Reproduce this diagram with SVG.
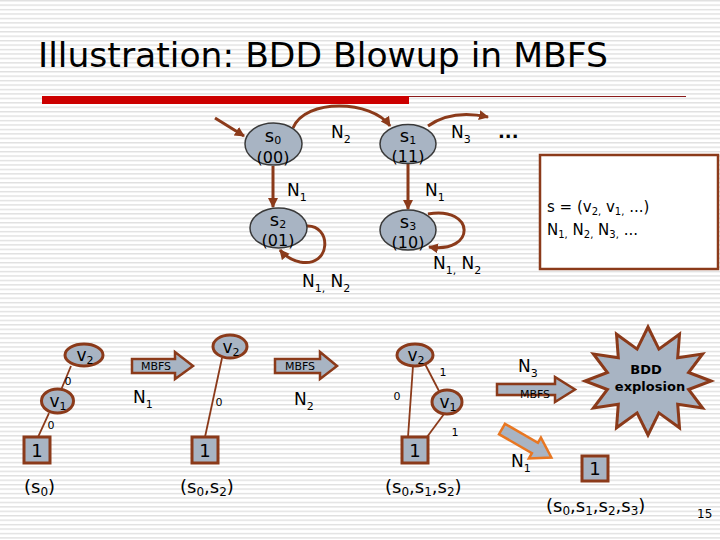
<svg xmlns="http://www.w3.org/2000/svg" width="720" height="540" viewBox="0 0 720 540">
<defs>
<pattern id="stripes" width="720" height="4.44" patternUnits="userSpaceOnUse">
<rect width="720" height="4.44" fill="#ffffff"/>
<rect y="0" width="720" height="1.4" fill="#e0e0e0"/>
</pattern>
<marker id="ah" markerWidth="12" markerHeight="12" refX="9" refY="5" orient="auto" markerUnits="userSpaceOnUse">
<path d="M0,0 L10,5 L0,10 z" fill="#8B3A1A"/>
</marker>
<style>
text{font-family:"DejaVu Sans","Liberation Sans",sans-serif;fill:#000}
.st{fill:#A8B4C3;stroke:#3a3a3a;stroke-width:1.5}
.bn{fill:#A8B4C3;stroke:#8B3A1A;stroke-width:3}
.edge{fill:none;stroke:#8B3A1A;stroke-width:3}
.bl{fill:none;stroke:#8B3A1A;stroke-width:1.8}
.blk{fill:#A8B4C3;stroke:#8B3A1A;stroke-width:2.5}
.lbl{font-size:17px}
.sub{font-size:11px}
.sm{font-size:11px}
.nm{font-size:18px}
.cd{font-size:16px}
</style>
</defs>
<rect width="720" height="540" fill="url(#stripes)"/>

<text x="38" y="67" font-size="34" textLength="570" lengthAdjust="spacingAndGlyphs">Illustration: BDD Blowup in MBFS</text>
<rect x="42" y="96" width="367" height="8" fill="#CC0000"/>
<line x1="409" y1="96.5" x2="686" y2="96.5" stroke="#8B1A1A" stroke-width="1"/>

<g id="connectors">
<path class="edge" d="M215,118 L244,136" marker-end="url(#ah)"/>
<path class="edge" d="M293,128 C305,98 372,100 390,126" marker-end="url(#ah)"/>
<path class="edge" d="M428,126 C445,114 465,112 488,117" marker-end="url(#ah)"/>
<path class="edge" d="M273,166 L273,207" marker-end="url(#ah)"/>
<path class="edge" d="M408,163 L408,209" marker-end="url(#ah)"/>
<path class="edge" d="M306,226 C332,224 332,268 300,262 C291,260 285,256 280,250" marker-end="url(#ah)"/>
<path class="edge" d="M428,214 C476,206 476,254 429,247" marker-end="url(#ah)"/>
<line class="bl" x1="71" y1="366" x2="61" y2="390"/>
<line class="bl" x1="49" y1="413" x2="38" y2="437"/>
<line class="bl" x1="222" y1="358" x2="205" y2="437"/>
<line class="bl" x1="413" y1="366" x2="408" y2="437"/>
<line class="bl" x1="425" y1="364" x2="439" y2="391"/>
<line class="bl" x1="444" y1="414" x2="427" y2="437"/>
</g>

<g id="s0"><ellipse class="st" cx="273.5" cy="144" rx="28.5" ry="21"/>
<text x="273" y="142" text-anchor="middle" class="nm">s<tspan class="sub" dy="2">0</tspan></text>
<text x="273" y="163" text-anchor="middle" class="cd">(00)</text></g>
<g id="s1"><ellipse class="st" cx="408" cy="144" rx="28" ry="19.5"/>
<text x="408" y="142" text-anchor="middle" class="nm">s<tspan class="sub" dy="2">1</tspan></text>
<text x="408" y="162" text-anchor="middle" class="cd">(11)</text></g>
<g id="s2"><ellipse class="st" cx="278.5" cy="228" rx="28.5" ry="20"/>
<text x="278" y="226" text-anchor="middle" class="nm">s<tspan class="sub" dy="2">2</tspan></text>
<text x="278" y="246" text-anchor="middle" class="cd">(01)</text></g>
<g id="s3"><ellipse class="st" cx="408" cy="230" rx="28" ry="20"/>
<text x="408" y="228" text-anchor="middle" class="nm">s<tspan class="sub" dy="2">3</tspan></text>
<text x="408" y="248" text-anchor="middle" class="cd">(10)</text></g>

<g id="edge-labels">
<text x="331" y="138" class="lbl">N<tspan class="sub" dy="5">2</tspan></text>
<text x="451" y="138" class="lbl">N<tspan class="sub" dy="5">3</tspan></text>
<text x="498" y="138" font-size="18" font-weight="bold">...</text>
<text x="287" y="196" class="lbl">N<tspan class="sub" dy="5">1</tspan></text>
<text x="425" y="196" class="lbl">N<tspan class="sub" dy="5">1</tspan></text>
<text x="302" y="287" class="lbl">N<tspan class="sub" dy="5">1,</tspan><tspan dy="-5"> N</tspan><tspan class="sub" dy="5">2</tspan></text>
<text x="433" y="269" class="lbl">N<tspan class="sub" dy="5">1,</tspan><tspan dy="-5"> N</tspan><tspan class="sub" dy="5">2</tspan></text>
</g>

<g id="legend">
<rect x="540" y="155" width="178" height="114" fill="#ffffff" stroke="#8B3A1A" stroke-width="2.5"/>
<text x="547" y="212" font-size="15">s = (v<tspan font-size="10" dy="3">2,</tspan><tspan dy="-3"> v</tspan><tspan font-size="10" dy="3">1,</tspan><tspan dy="-3"> ...)</tspan></text>
<text x="547" y="235" font-size="15">N<tspan font-size="10" dy="3">1,</tspan><tspan dy="-3"> N</tspan><tspan font-size="10" dy="3">2,</tspan><tspan dy="-3"> N</tspan><tspan font-size="10" dy="3">3,</tspan><tspan dy="-3"> ...</tspan></text>
</g>

<g id="bdd1">
<ellipse class="bn" cx="84" cy="355" rx="19" ry="11"/>
<text x="85" y="361" text-anchor="middle" class="lbl">v<tspan class="sub" dy="3">2</tspan></text>
<ellipse class="bn" cx="57.5" cy="401" rx="16" ry="12"/>
<text x="58" y="407" text-anchor="middle" class="lbl">v<tspan class="sub" dy="3">1</tspan></text>
<text x="68" y="385" text-anchor="middle" class="sm">0</text>
<text x="51" y="429" text-anchor="middle" class="sm">0</text>
<rect class="bn" x="24" y="437" width="26" height="26"/>
<text x="37" y="457" text-anchor="middle" font-size="18">1</text>
<text x="24" y="493" font-size="18">(s<tspan font-size="12" dy="3">0</tspan><tspan dy="-3">)</tspan></text>
</g>

<g id="arrow1">
<polygon class="blk" points="132,359 175,359 175,352 193,366 175,379 175,373 132,373"/>
<text x="156" y="370" text-anchor="middle" class="sm">MBFS</text>
<text x="133" y="403" class="lbl">N<tspan class="sub" dy="5">1</tspan></text>
</g>

<g id="bdd2">
<ellipse class="bn" cx="230" cy="346.5" rx="17" ry="11.5"/>
<text x="231" y="353" text-anchor="middle" class="lbl">v<tspan class="sub" dy="3">2</tspan></text>
<text x="219" y="406" text-anchor="middle" class="sm">0</text>
<rect class="bn" x="192" y="437" width="26" height="26"/>
<text x="205" y="457" text-anchor="middle" font-size="18">1</text>
<text x="180" y="493" font-size="18">(s<tspan font-size="12" dy="3">0</tspan><tspan dy="-3">,s</tspan><tspan font-size="12" dy="3">2</tspan><tspan dy="-3">)</tspan></text>
</g>

<g id="arrow2">
<polygon class="blk" points="275,359 320,359 320,352 337,366 320,379 320,373 275,373"/>
<text x="300" y="370" text-anchor="middle" class="sm">MBFS</text>
<text x="294" y="405" class="lbl">N<tspan class="sub" dy="5">2</tspan></text>
</g>

<g id="bdd3">
<ellipse class="bn" cx="415" cy="355" rx="18" ry="11"/>
<text x="416" y="361" text-anchor="middle" class="lbl">v<tspan class="sub" dy="3">2</tspan></text>
<ellipse class="bn" cx="447" cy="402" rx="15" ry="12"/>
<text x="448" y="408" text-anchor="middle" class="lbl">v<tspan class="sub" dy="3">1</tspan></text>
<text x="397" y="400" text-anchor="middle" class="sm">0</text>
<text x="443" y="376" text-anchor="middle" class="sm">1</text>
<text x="455" y="436" text-anchor="middle" class="sm">1</text>
<rect class="bn" x="402" y="437" width="26" height="26"/>
<text x="415" y="457" text-anchor="middle" font-size="18">1</text>
<text x="385" y="493" font-size="18">(s<tspan font-size="12" dy="3">0</tspan><tspan dy="-3">,s</tspan><tspan font-size="12" dy="3">1</tspan><tspan dy="-3">,s</tspan><tspan font-size="12" dy="3">2</tspan><tspan dy="-3">)</tspan></text>
</g>

<g id="arrow3">
<text x="518" y="372" class="lbl">N<tspan class="sub" dy="5">3</tspan></text>
<polygon class="blk" points="497,384 555,384 555,377 575,389.5 555,402 555,395 497,395"/>
<text x="535" y="398" text-anchor="middle" class="sm">MBFS</text>
</g>

<g id="explosion">
<polygon fill="#A8B4C3" stroke="#8B3A1A" stroke-width="3" stroke-linejoin="miter" points="711,381 688.6,372.5 702.6,354 677.7,357.7 679.5,334.2 658.9,349.1 648,327 637.1,349.1 616.5,334.2 618.3,357.7 593.4,354 607.4,372.5 585,381 607.4,389.5 593.4,408 618.3,404.3 616.5,427.8 637.1,412.9 648,435 658.9,412.9 679.5,427.8 677.7,404.3 702.6,408 688.6,389.5"/>
<text x="646" y="374" text-anchor="middle" font-size="13" font-weight="bold">BDD</text>
<text x="650" y="391" text-anchor="middle" font-size="13" font-weight="bold">explosion</text>
</g>

<g id="arrow4">
<polygon transform="translate(502,429) rotate(30)" fill="#A8B4C3" stroke="#E87722" stroke-width="2.5" points="0,-6 38,-6 38,-12 57,0 38,12 38,6 0,6"/>
<text x="511" y="467" class="lbl">N<tspan class="sub" dy="5">1</tspan></text>
</g>

<g id="bdd4">
<rect class="bn" x="582" y="456" width="26" height="25"/>
<text x="595" y="475" text-anchor="middle" font-size="18">1</text>
<text x="546" y="512" font-size="18">(s<tspan font-size="12" dy="3">0</tspan><tspan dy="-3">,s</tspan><tspan font-size="12" dy="3">1</tspan><tspan dy="-3">,s</tspan><tspan font-size="12" dy="3">2</tspan><tspan dy="-3">,s</tspan><tspan font-size="12" dy="3">3</tspan><tspan dy="-3">)</tspan></text>
</g>

<text x="697" y="518" font-size="12">15</text>
</svg>
